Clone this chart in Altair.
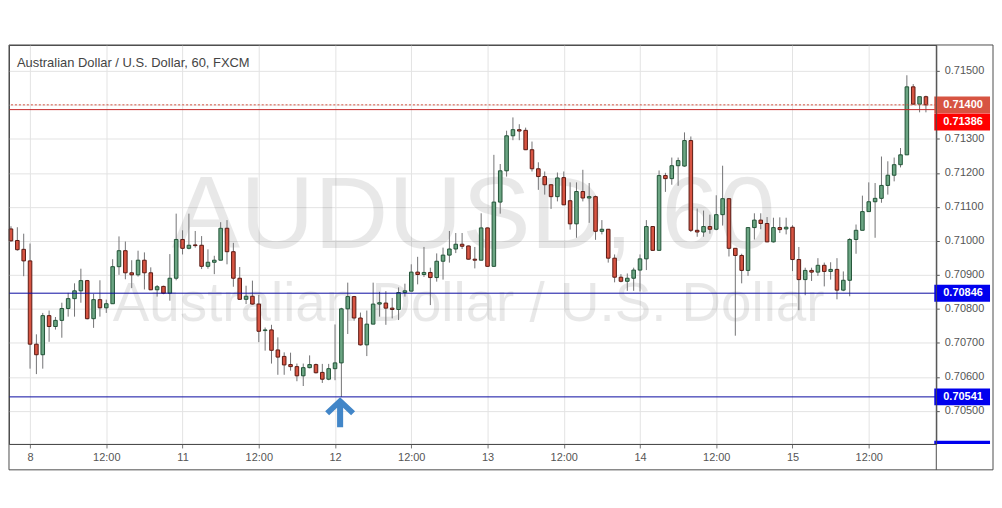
import altair as alt
import pandas as pd

# ---- candle data (hourly AUD/USD) ----
OPEN = [0.71035, 0.71001, 0.70975, 0.70941, 0.70696, 0.70665, 0.70780, 0.70748, 0.70766, 0.70801,
        0.70830, 0.70853, 0.70883, 0.70771, 0.70827, 0.70803, 0.70815, 0.70924, 0.70971, 0.70906,
        0.70900, 0.70943, 0.70906, 0.70856, 0.70866, 0.70846, 0.70890, 0.71004, 0.70978, 0.70988,
        0.70987, 0.70925, 0.70937, 0.70943, 0.71037, 0.70968, 0.70890, 0.70828, 0.70837, 0.70814,
        0.70736, 0.70738, 0.70679, 0.70660, 0.70636, 0.70630, 0.70603, 0.70627, 0.70636, 0.70613,
        0.70593, 0.70624, 0.70641, 0.70800, 0.70836, 0.70773, 0.70694, 0.70755, 0.70814, 0.70817,
        0.70802, 0.70798, 0.70848, 0.70852, 0.70908, 0.70901, 0.70907, 0.70892, 0.70940, 0.70958,
        0.70976, 0.70990, 0.70985, 0.70946, 0.70943, 0.71038, 0.70925, 0.71114, 0.71206, 0.71309,
        0.71327, 0.71325, 0.71268, 0.71212, 0.71189, 0.71165, 0.71130, 0.71186, 0.71118, 0.71050,
        0.71145, 0.71126, 0.71130, 0.71028, 0.71034, 0.70949, 0.70893, 0.70881, 0.70890, 0.70914,
        0.70947, 0.71042, 0.70972, 0.71192, 0.71183, 0.71221, 0.71220, 0.71295, 0.71031, 0.71026,
        0.71042, 0.71034, 0.71077, 0.71124, 0.70978, 0.70957, 0.70913, 0.71039, 0.71061, 0.71051,
        0.70997, 0.71039, 0.71035, 0.71040, 0.70945, 0.70886, 0.70913, 0.70908, 0.70928, 0.70910,
        0.70916, 0.70855, 0.70884, 0.71004, 0.71031, 0.71086, 0.71115, 0.71125, 0.71163, 0.71193,
        0.71224, 0.71253, 0.71453, 0.71402, 0.71424]
HIGH = [0.71043, 0.71040, 0.71021, 0.70992, 0.70725, 0.70788, 0.70795, 0.70776, 0.70818, 0.70847,
        0.70875, 0.70918, 0.70885, 0.70844, 0.70884, 0.70827, 0.70946, 0.71013, 0.70998, 0.70943,
        0.70971, 0.70966, 0.70922, 0.70870, 0.70868, 0.70961, 0.71080, 0.71031, 0.71080, 0.71029,
        0.71014, 0.70975, 0.70956, 0.71055, 0.71061, 0.70994, 0.70923, 0.70868, 0.70883, 0.70841,
        0.70745, 0.70753, 0.70716, 0.70672, 0.70671, 0.70639, 0.70639, 0.70663, 0.70639, 0.70638,
        0.70638, 0.70754, 0.70803, 0.70877, 0.70838, 0.70789, 0.70795, 0.70877, 0.70850, 0.70852,
        0.70832, 0.70863, 0.70874, 0.70931, 0.70953, 0.70982, 0.70921, 0.70963, 0.70980, 0.71029,
        0.71023, 0.71023, 0.70986, 0.70982, 0.71081, 0.71039, 0.71253, 0.71226, 0.71324, 0.71363,
        0.71343, 0.71333, 0.71292, 0.71231, 0.71204, 0.71166, 0.71201, 0.71204, 0.71172, 0.71172,
        0.71209, 0.71170, 0.71133, 0.71061, 0.71035, 0.70960, 0.70902, 0.70904, 0.70921, 0.70960,
        0.71061, 0.71043, 0.71207, 0.71200, 0.71245, 0.71245, 0.71319, 0.71307, 0.71095, 0.71089,
        0.71077, 0.71134, 0.71221, 0.71125, 0.70979, 0.70962, 0.71040, 0.71081, 0.71081, 0.71070,
        0.71068, 0.71069, 0.71068, 0.71046, 0.70982, 0.70921, 0.70921, 0.70949, 0.70936, 0.70937,
        0.70949, 0.70910, 0.71008, 0.71048, 0.71133, 0.71172, 0.71170, 0.71248, 0.71234, 0.71245,
        0.71273, 0.71487, 0.71461, 0.71424, 0.71427]
LOW = [0.70998, 0.70971, 0.70896, 0.70624, 0.70608, 0.70624, 0.70703, 0.70739, 0.70715, 0.70777,
       0.70777, 0.70818, 0.70769, 0.70744, 0.70777, 0.70788, 0.70815, 0.70900, 0.70887, 0.70861,
       0.70895, 0.70857, 0.70855, 0.70836, 0.70843, 0.70824, 0.70884, 0.70960, 0.70975, 0.70980,
       0.70917, 0.70918, 0.70902, 0.70943, 0.70931, 0.70865, 0.70826, 0.70814, 0.70812, 0.70702,
       0.70677, 0.70639, 0.70606, 0.70606, 0.70618, 0.70587, 0.70573, 0.70625, 0.70610, 0.70582,
       0.70590, 0.70590, 0.70541, 0.70726, 0.70765, 0.70692, 0.70661, 0.70755, 0.70777, 0.70753,
       0.70772, 0.70767, 0.70836, 0.70852, 0.70872, 0.70894, 0.70811, 0.70880, 0.70886, 0.70936,
       0.70964, 0.70976, 0.70945, 0.70919, 0.70943, 0.70924, 0.70924, 0.71080, 0.71189, 0.71296,
       0.71296, 0.71267, 0.71204, 0.71150, 0.71136, 0.71094, 0.71116, 0.71105, 0.71033, 0.71009,
       0.71116, 0.71053, 0.71003, 0.71019, 0.70936, 0.70878, 0.70878, 0.70853, 0.70853, 0.70851,
       0.70914, 0.70971, 0.70971, 0.71144, 0.71165, 0.71162, 0.71218, 0.71026, 0.71012, 0.71012,
       0.71021, 0.71031, 0.71045, 0.70954, 0.70721, 0.70875, 0.70897, 0.71004, 0.71034, 0.70996,
       0.70995, 0.71023, 0.71019, 0.70911, 0.70796, 0.70840, 0.70882, 0.70897, 0.70866, 0.70886,
       0.70828, 0.70852, 0.70837, 0.70962, 0.71031, 0.71086, 0.71009, 0.71112, 0.71136, 0.71175,
       0.71216, 0.71253, 0.71402, 0.71378, 0.71378]
CLOSE = [0.71000, 0.70974, 0.70941, 0.70696, 0.70665, 0.70780, 0.70748, 0.70766, 0.70801, 0.70830,
         0.70853, 0.70883, 0.70771, 0.70827, 0.70803, 0.70815, 0.70924, 0.70971, 0.70906, 0.70900,
         0.70943, 0.70906, 0.70856, 0.70865, 0.70846, 0.70890, 0.71004, 0.70978, 0.70987, 0.70986,
         0.70925, 0.70937, 0.70943, 0.71037, 0.70968, 0.70890, 0.70828, 0.70837, 0.70814, 0.70734,
         0.70738, 0.70678, 0.70658, 0.70635, 0.70630, 0.70603, 0.70627, 0.70636, 0.70612, 0.70593,
         0.70624, 0.70641, 0.70800, 0.70836, 0.70773, 0.70694, 0.70755, 0.70814, 0.70818, 0.70802,
         0.70798, 0.70848, 0.70853, 0.70908, 0.70901, 0.70907, 0.70892, 0.70940, 0.70958, 0.70976,
         0.70990, 0.70984, 0.70946, 0.70943, 0.71038, 0.70925, 0.71114, 0.71206, 0.71309, 0.71327,
         0.71323, 0.71268, 0.71212, 0.71189, 0.71165, 0.71130, 0.71185, 0.71106, 0.71050, 0.71145,
         0.71126, 0.71130, 0.71028, 0.71034, 0.70949, 0.70893, 0.70881, 0.70890, 0.70914, 0.70947,
         0.71042, 0.70972, 0.71192, 0.71183, 0.71221, 0.71236, 0.71295, 0.71031, 0.71026, 0.71042,
         0.71034, 0.71077, 0.71124, 0.70978, 0.70957, 0.70913, 0.71039, 0.71061, 0.71051, 0.70997,
         0.71039, 0.71033, 0.71040, 0.70945, 0.70886, 0.70913, 0.70908, 0.70928, 0.70910, 0.70916,
         0.70855, 0.70884, 0.71004, 0.71031, 0.71086, 0.71115, 0.71125, 0.71163, 0.71193, 0.71224,
         0.71253, 0.71453, 0.71402, 0.71424, 0.71400]

X_TICK_INDEX = [3, 15, 27, 39, 51, 63, 75, 87, 99, 111, 123, 135]
X_TICK_LABELS = ["8", "12:00", "11", "12:00", "12", "12:00", "13", "12:00", "14", "12:00", "15", "12:00"]
Y_TICKS = [0.705, 0.706, 0.707, 0.708, 0.709, 0.710, 0.711, 0.712, 0.713, 0.714, 0.715]

SUPPORT_LEVELS = [0.70846, 0.70541]
LAST_PRICE = 0.71400
RED_LEVEL = 0.71386
ARROW_INDEX = 51.8
ARROW_PRICE = 0.70496

TITLE = "Australian Dollar / U.S. Dollar, 60, FXCM"
WATERMARK_BIG = "AUDUSD, 60"
WATERMARK_SMALL = "Australian Dollar / U.S. Dollar"

# ---- layout ----
W, H = 932, 401
X_DOM = [-0.313, 145.63]
Y_DOM = [0.704025, 0.715761]
PXU = (Y_DOM[1] - Y_DOM[0]) / H  # price per pixel

UP_FILL, UP_LINE = "#6ba583", "#225437"
DN_FILL, DN_LINE = "#d75442", "#5b1a13"
WICK = "#737375"
GRID = "#e3e3e3"
FRAME = "#4d4d4d"
FONT = "Liberation Sans"

n = len(OPEN)
df = pd.DataFrame({
    "idx": list(range(n)),
    "open": OPEN, "high": HIGH, "low": LOW, "close": CLOSE,
})
df["dir"] = ["up" if c >= o else "down" for o, c in zip(OPEN, CLOSE)]

xscale = alt.Scale(domain=X_DOM, nice=False, zero=False)
yscale = alt.Scale(domain=Y_DOM, nice=False, zero=False)

label_expr = "[" + ",".join("'%s'" % s for s in X_TICK_LABELS) + "][round((datum.value-3)/12)]"

XA = alt.Axis(values=X_TICK_INDEX, labelExpr=label_expr, grid=True, gridColor=GRID,
              domain=True, domainColor=FRAME, ticks=True, tickColor="#777", tickSize=4,
              labelColor="#555", labelFont=FONT, labelFontSize=11, labelPadding=4,
              labelFlush=False, title=None)
YA = alt.Axis(orient="right", values=Y_TICKS, format=".5f", grid=True, gridColor=GRID,
              domain=False, ticks=True, tickColor="#555", tickSize=3,
              labelColor="#555", labelFont=FONT, labelFontSize=11, labelPadding=5,
              title=None)

one = pd.DataFrame({"k": [0]})

wm_big = alt.Chart(one).mark_text(
    text=WATERMARK_BIG, font=FONT, fontSize=103, align="center", baseline="alphabetic",
    color="#000000", opacity=0.085
).encode(x=alt.value(467), y=alt.value(204))

wm_small = alt.Chart(one).mark_text(
    text=WATERMARK_SMALL, font=FONT, fontSize=55, align="center", baseline="alphabetic",
    color="#000000", opacity=0.085
).encode(x=alt.value(462), y=alt.value(277))

wicks = alt.Chart(df).mark_rule(color=WICK, strokeWidth=1).encode(
    x=alt.X("idx:Q", scale=xscale, axis=XA),
    y=alt.Y("low:Q", scale=yscale, axis=YA),
    y2="high:Q",
)

bodies = alt.Chart(df).transform_calculate(
    x0="datum.idx - 0.28", x1="datum.idx + 0.28"
).mark_rect(strokeWidth=1).encode(
    x=alt.X("x0:Q", scale=xscale, axis=XA),
    x2="x1:Q",
    y=alt.Y("open:Q", scale=yscale, axis=YA),
    y2="close:Q",
    fill=alt.Fill("dir:N", scale=alt.Scale(domain=["up", "down"], range=[UP_FILL, DN_FILL]), legend=None),
    stroke=alt.Stroke("dir:N", scale=alt.Scale(domain=["up", "down"], range=[UP_LINE, DN_LINE]), legend=None),
)

levels_df = pd.DataFrame({"price": SUPPORT_LEVELS})
blue_lines = alt.Chart(levels_df).mark_rule(color="#0a0aa0", strokeWidth=1).encode(
    y=alt.Y("price:Q", scale=yscale, axis=YA)
)
red_line = alt.Chart(one).mark_rule(color="#c62828", strokeWidth=1).encode(
    y=alt.YDatum(RED_LEVEL, scale=yscale, axis=YA)
)
last_line = alt.Chart(one).mark_rule(color=DN_FILL, strokeWidth=1, strokeDash=[2, 2]).encode(
    y=alt.YDatum(LAST_PRICE, scale=yscale, axis=YA)
)

arrow_path = ("M0,-0.94 L0.94,-0.06 L0.69,0.19 L0.19,-0.28 L0.19,0.94 L-0.19,0.94 "
              "L-0.19,-0.28 L-0.69,0.19 L-0.94,-0.06 Z")
arrow = alt.Chart(one).mark_point(shape=arrow_path, filled=True, size=1024,
                                  color="#4286c8", opacity=1, strokeWidth=0).encode(
    x=alt.XDatum(ARROW_INDEX, scale=xscale, axis=XA),
    y=alt.YDatum(ARROW_PRICE, scale=yscale, axis=YA),
)

# price-axis labels for the lines
box_prices = [LAST_PRICE, RED_LEVEL] + SUPPORT_LEVELS
box_labels = ["%.5f" % p for p in box_prices]
box_fill = [DN_FILL, "#ff0000", "#0000ee", "#0000ee"]
box_shift_px = [0, 12.5, 0, 0]
boxes_df = pd.DataFrame({
    "label": box_labels,
    "fillc": box_fill,
    "center": [p - s * PXU for p, s in zip(box_prices, box_shift_px)],
})
boxes_df["top"] = boxes_df["center"] + 8.5 * PXU
boxes_df["bot"] = boxes_df["center"] - 8.5 * PXU

box_rects = alt.Chart(boxes_df).mark_rect().encode(
    x=alt.value(930), x2=alt.value(986),
    y=alt.Y("top:Q", scale=yscale, axis=YA), y2="bot:Q",
    fill=alt.Fill("fillc:N", scale=None, legend=None),
)
box_text = alt.Chart(boxes_df).mark_text(
    align="left", baseline="middle", font=FONT, fontSize=11, fontWeight="bold", color="white"
).encode(
    x=alt.value(939),
    y=alt.Y("center:Q", scale=yscale, axis=YA),
    text="label:N",
)
bottom_bar = alt.Chart(one).mark_rect(color="#0000ee").encode(
    x=alt.value(930), x2=alt.value(986), y=alt.value(397.7), y2=alt.value(401)
)

outer = alt.Chart(one).mark_rect(filled=False, stroke=FRAME, strokeWidth=1).encode(
    x=alt.value(0), x2=alt.value(989), y=alt.value(0), y2=alt.value(427)
)
sep = alt.Chart(one).mark_rule(color=FRAME, strokeWidth=1).encode(
    x=alt.value(932), y=alt.value(0), y2=alt.value(427)
)

title = alt.Chart(one).mark_text(
    text=TITLE, align="left", baseline="alphabetic", font=FONT, fontSize=13, color="#444444"
).encode(x=alt.value(8), y=alt.value(22))

chart = alt.layer(
    wm_big, wm_small, wicks, bodies, blue_lines, red_line, last_line, arrow,
    box_rects, box_text, bottom_bar, outer, sep, title
).properties(
    width=W, height=H,
    padding={"left": 0, "top": 35, "right": 0, "bottom": 0},
    background="white",
).configure_view(stroke=FRAME, strokeWidth=1)

chart.save("out.html", embed_options={"renderer": "svg", "actions": False})
